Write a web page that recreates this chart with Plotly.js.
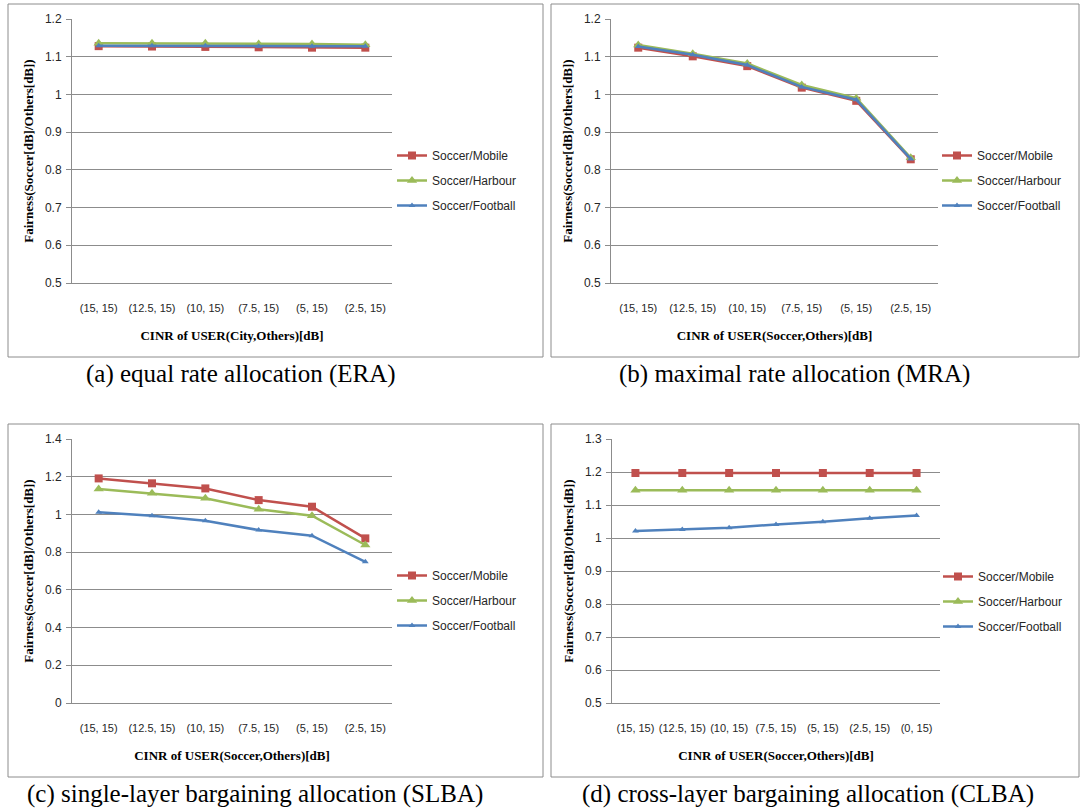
<!DOCTYPE html>
<html>
<head>
<meta charset="utf-8">
<script src="https://cdn.plot.ly/plotly-3.0.1.min.js"></script>
<style>html,body{margin:0;padding:0;background:#fff}#chart{width:1081px;height:810px}</style>
</head>
<body>
<div id="chart"></div>
<script>
// ---- data ----
var cats6 = ["(15, 15)", "(12.5, 15)", "(10, 15)", "(7.5, 15)", "(5, 15)", "(2.5, 15)"];
var cats7 = ["(15, 15)", "(12.5, 15)", "(10, 15)", "(7.5, 15)", "(5, 15)", "(2.5, 15)", "(0, 15)"];
var seriesNames = ["Soccer/Mobile", "Soccer/Harbour", "Soccer/Football"];

// (a) ERA
var eraMobile   = [1.128, 1.127, 1.126, 1.125, 1.124, 1.124];
var eraHarbour  = [1.136, 1.136, 1.136, 1.134, 1.134, 1.132];
var eraFootball = [1.129, 1.129, 1.129, 1.128, 1.128, 1.128];
// (b) MRA
var mraMobile   = [1.124, 1.101, 1.075, 1.018, 0.983, 0.828];
var mraHarbour  = [1.131, 1.108, 1.082, 1.025, 0.990, 0.832];
var mraFootball = [1.127, 1.105, 1.078, 1.020, 0.986, 0.829];
// (c) SLBA
var slbaMobile   = [1.191, 1.165, 1.138, 1.076, 1.041, 0.873];
var slbaHarbour  = [1.135, 1.112, 1.086, 1.027, 0.993, 0.838];
var slbaFootball = [1.011, 0.993, 0.967, 0.917, 0.887, 0.749];
// (d) CLBA
var clbaMobile   = [1.197, 1.197, 1.197, 1.197, 1.197, 1.197, 1.197];
var clbaHarbour  = [1.145, 1.145, 1.145, 1.145, 1.145, 1.145, 1.145];
var clbaFootball = [1.021, 1.026, 1.031, 1.041, 1.049, 1.060, 1.068];

var xTitleA = "CINR of USER(City,Others)[dB]";
var xTitleB = "CINR of USER(Soccer,Others)[dB]";
var yTitle = "Fairness(Soccer[dB]/Others[dB])";
var captions = ["(a) equal rate allocation (ERA)", "(b) maximal rate allocation (MRA)",
                "(c) single-layer bargaining allocation (SLBA)", "(d) cross-layer bargaining allocation (CLBA)"];

// ---- styling ----
var W = 1081, H = 810;
var colors = ["#C0504D", "#9BBB59", "#4F81BD"];
var symbols = ["square", "triangle-up", "triangle-up"];
var msizes = [8, 9, 6];
var tickFont = {family: "Liberation Sans, Arial, sans-serif", size: 11, color: "#262626"};
var yTickFont = {family: "Liberation Sans, Arial, sans-serif", size: 12, color: "#262626"};
var titleFont = {family: "Liberation Serif, Times New Roman, serif", size: 13, color: "#000", weight: "bold"};
var gridColor = "#8c8c8c";

function px(x) { return x / W; }
function py(y) { return 1 - y / H; }

var traces = [];
function addPanel(vals, cats, ax, legendId) {
  for (var i = 0; i < 3; i++) {
    traces.push({
      type: "scatter", mode: "lines+markers",
      name: seriesNames[i], x: cats, y: vals[i],
      xaxis: "x" + ax, yaxis: "y" + ax,
      legend: legendId, legendgroup: legendId + "_" + i,
      line: {color: colors[i], width: 2.5},
      marker: {symbol: symbols[i], size: msizes[i], color: colors[i]}
    });
  }
}
addPanel([eraMobile, eraHarbour, eraFootball], cats6, "", "legend");
addPanel([mraMobile, mraHarbour, mraFootball], cats6, "2", "legend2");
addPanel([slbaMobile, slbaHarbour, slbaFootball], cats6, "3", "legend3");
addPanel([clbaMobile, clbaHarbour, clbaFootball], cats7, "4", "legend4");

function xaxis(domain, anchor, n, title) {
  return {
    domain: domain, anchor: anchor, type: "category", range: [-0.5, n - 0.5],
    showgrid: false, zeroline: false, showline: true, linecolor: gridColor, linewidth: 1,
    ticks: "", tickangle: 0, tickfont: tickFont, ticklabelstandoff: 15,
    title: {text: title, font: titleFont, standoff: 17}, fixedrange: true
  };
}
function yaxis(domain, anchor, range, dtick, title) {
  return {
    domain: domain, anchor: anchor, range: range, dtick: dtick, tick0: 0,
    showgrid: true, gridcolor: gridColor, gridwidth: 1, zeroline: false,
    showline: true, linecolor: gridColor, linewidth: 1,
    ticks: "outside", ticklen: 5, tickcolor: gridColor, tickfont: yTickFont, ticklabelstandoff: 2,
    title: {text: title, font: titleFont, standoff: 8}, fixedrange: true
  };
}

var yTop = [py(283), py(19)];
var yBot = [py(703), py(439)];

function legendAt(textX, topY) {
  return {
    x: px(textX - 40), y: py(topY), xanchor: "left", yanchor: "top",
    font: {family: "Liberation Sans, Arial, sans-serif", size: 12, color: "#262626"},
    bgcolor: "rgba(0,0,0,0)", borderwidth: 0, tracegroupgap: 6, itemwidth: 30,
    traceorder: "grouped"
  };
}

var shapes = [
  [8, 4, 543, 357], [551, 4, 1079, 357], [8, 424, 543, 777], [551, 424, 1079, 777]
].map(function (b) {
  return {type: "rect", xref: "paper", yref: "paper", x0: px(b[0]), x1: px(b[2]), y0: py(b[3]), y1: py(b[1]),
          line: {color: "#8c8c8c", width: 1}, fillcolor: "rgba(0,0,0,0)", layer: "below"};
});

var capPos = [[241, 374], [794, 374], [255, 794], [808, 794]];
var annotations = captions.map(function (t, i) {
  return {text: t, xref: "paper", yref: "paper", x: px(capPos[i][0]), y: py(capPos[i][1]),
          xanchor: "center", yanchor: "middle", showarrow: false,
          font: {family: "Liberation Serif, Times New Roman, serif", size: 25, color: "#000"}};
});

var layout = {
  width: W, height: H, margin: {l: 0, r: 0, t: 0, b: 0},
  paper_bgcolor: "#fff", plot_bgcolor: "#fff", showlegend: true,
  xaxis: xaxis([px(72), px(392)], "y", 6, xTitleA),
  yaxis: yaxis(yTop, "x", [0.5, 1.2], 0.1, yTitle),
  xaxis2: xaxis([px(611), px(938)], "y2", 6, xTitleB),
  yaxis2: yaxis(yTop, "x2", [0.5, 1.2], 0.1, yTitle),
  xaxis3: xaxis([px(72), px(392)], "y3", 6, xTitleB),
  yaxis3: yaxis(yBot, "x3", [0, 1.4], 0.2, yTitle),
  xaxis4: xaxis([px(612), px(940)], "y4", 7, xTitleB),
  yaxis4: yaxis(yBot, "x4", [0.5, 1.3], 0.1, yTitle),
  legend: legendAt(432, 141),
  legend2: legendAt(977, 141),
  legend3: legendAt(432, 561),
  legend4: legendAt(978, 562),
  shapes: shapes,
  annotations: annotations
};

Plotly.newPlot("chart", traces, layout, {displayModeBar: false, staticPlot: true});
</script>
</body>
</html>
